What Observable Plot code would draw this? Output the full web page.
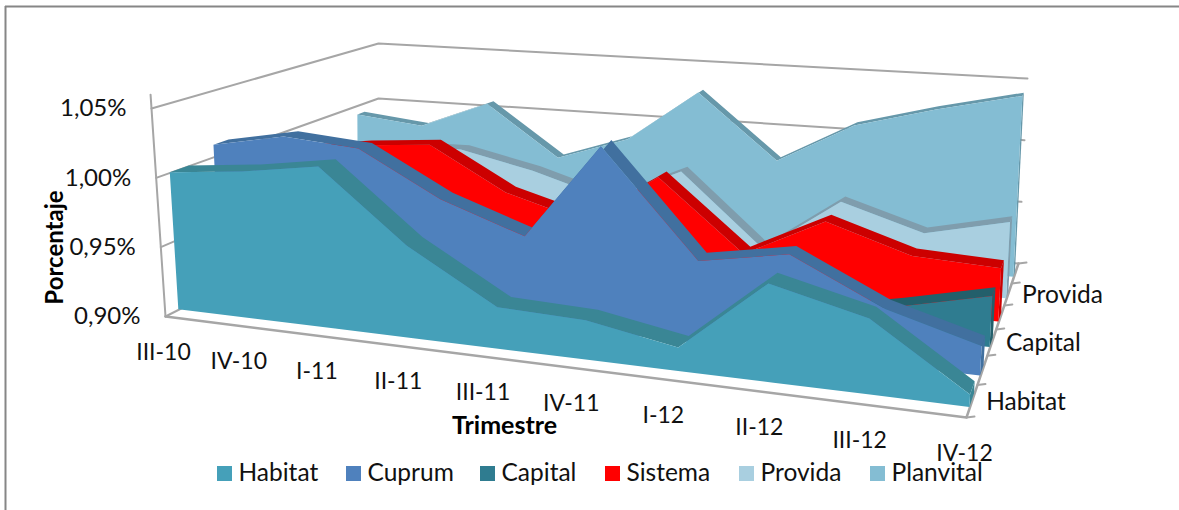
<!DOCTYPE html><html><head><meta charset="utf-8">
<script src="https://cdn.jsdelivr.net/npm/d3@7"></script>
<script src="https://cdn.jsdelivr.net/npm/@observablehq/plot@0.6"></script>
</head><body style="margin:0;background:#fff"><div id="c"></div>
<script>
const W=1179,H=510;
const categories=["III-10","IV-10","I-11","II-11","III-11","IV-11","I-12","II-12","III-12","IV-12"];
const names=["Habitat","Cuprum","Capital","Sistema","Provida","Planvital"];
const habitat=[1,1.006,1.015,.965,.929,.927,.916,.966,.95,.908];
const cuprum=[1.009,1.02,1.016,.984,.963,1.033,.958,.969,.938,.92];
const capital=[.93,.93,.93,.92,.92,.91,.91,.91,.922,.936];
const sistema=[.983,.991,.996,.963,.946,.985,.932,.962,.942,.939];
const provida=[.972,.98,.981,.968,.95,.977,.921,.963,.944,.958];
const planvital=[.992,.986,1.009,.967,.987,1.03,.978,1.011,1.028,1.043];
const yTicks=[.9,.95,1,1.05];
const vals=[habitat,cuprum,capital,sistema,provida,planvital];
const fills=["#45A0B9","#4F81BD","#2F7C90","#FF0000","#A9CFE0","#84BDD3"];
const bands=["#3A8695","#41709F","#235F6B","#CC0000","#7F9DAD","#6698AA"];
// 3D box → screen: perspective of the floor and of the top plane, linear in between
function hom(q){const [[x0,y0],[x1,y1],[x2,y2],[x3,y3]]=q;
const dx1=x1-x2,dx2=x3-x2,dx3=x0-x1+x2-x3,dy1=y1-y2,dy2=y3-y2,dy3=y0-y1+y2-y3;
const den=dx1*dy2-dx2*dy1,g=(dx3*dy2-dx2*dy3)/den,h=(dx1*dy3-dx3*dy1)/den;
const a=x1-x0+g*x1,b=x3-x0+h*x3,d=y1-y0+g*y1,e=y3-y0+h*y3;
return (u,v)=>{const w=g*u+h*v+1;return [(a*u+b*v+x0)/w,(d*u+e*v+y0)/w];};}
const fl=hom([[165,316],[966,417],[1018,263],[378,208]]), tp=hom([[151,108],[978,184],[1027,78],[378,43]]);
const warp=(t,k=.08)=>t+k*t*(1-t);
const P=(i,d,val,k)=>{const u=warp(i/9,k),v=(val-.9)/.15,a=fl(u,d),b=tp(u,d);return [a[0]+(b[0]-a[0])*v,a[1]+(b[1]-a[1])*v];};
const F=.05,thick=[.07,.06,.06,.06,.05,.04],slot=n=>n/6;
const idx=d3.range(categories.length);
const marks=[];
const lineM=(pts,o={})=>Plot.line(pts,{x:d=>d[0],y:d=>d[1],stroke:"#A6A6A6",strokeWidth:2,...o});
for(const v of [.95,1,1.05]) marks.push(lineM([P(0,0,v),P(0,1,v),P(9,1,v)]));
marks.push(lineM([P(0,0,.9),P(0,1,.9),P(9,1,.9)]));
marks.push(lineM([P(0,0,.9),P(0,0,1.06)]));
marks.push(lineM([P(0,0,.9),P(9,0,.9),P(9,1,.9)],{strokeWidth:2.5}));
for(const k of d3.range(7)){const p=P(9,k/6,.9);marks.push(lineM([p,[p[0]+8,p[1]-1]]));}
for(const n of [5,4,3,2,1,0]){const v=vals[n],d0=slot(n)+F,d1=d0+thick[n];
 const rows=idx.map(i=>({f:P(i,d0,v[i]),b:P(i,d1,v[i]),g:P(i,d0,.9)}));
 const e=P(9,d0,.9),e2=P(9,d1,.9),t=P(9,d0,v[9]),t2=P(9,d1,v[9]);
 marks.push(Plot.area([{a:e,b:t},{a:e2,b:t2}],{x1:d=>d.a[0],y1:d=>d.a[1],x2:d=>d.b[0],y2:d=>d.b[1],fill:bands[n]}));
 marks.push(Plot.area(rows,{x1:d=>d.f[0],y1:d=>d.f[1],x2:d=>d.b[0],y2:d=>d.b[1],fill:bands[n]}));
 marks.push(Plot.area(rows,{x1:d=>d.g[0],y1:d=>d.g[1],x2:d=>d.f[0],y2:d=>d.f[1],fill:fills[n]}));
}
const font=s=>({fontFamily:"Lato",fontSize:s,fill:"#111"});
marks.push(Plot.text(yTicks,{x:d=>P(0,0,d)[0],y:d=>P(0,0,d)[1],text:d=>d.toFixed(2).replace(".",",")+"%",textAnchor:"end",dx:-25,dy:0,...font(24)}));
marks.push(Plot.text(idx,{x:i=>P(i,0,.9,.04)[0],y:i=>P(i,0,.9,.04)[1],text:i=>categories[i],dy:36,dx:-2,...font(23)}));
marks.push(Plot.text([0,2,4],{x:n=>P(9,(n+.5)/6,.9)[0],y:n=>P(9,(n+.5)/6,.9)[1],text:n=>names[n],textAnchor:"start",dx:14,dy:1,...font(24.5)}));
marks.push(Plot.text(["Porcentaje"],{x:()=>55,y:()=>247,rotate:-90,text:d=>d,fontFamily:"Lato",fontWeight:"bold",fontSize:24,fill:"#000"}));
marks.push(Plot.text(["Trimestre"],{x:()=>504,y:()=>425,text:d=>d,fontFamily:"Lato",fontWeight:"bold",fontSize:25,fill:"#000"}));
const swatchX=[217,346,480,605,739,870];
marks.push(Plot.rect(names,{x1:(d,i)=>swatchX[i],x2:(d,i)=>swatchX[i]+15,y1:()=>466,y2:()=>481,fill:(d,i)=>fills[i]}));
marks.push(Plot.text(names,{x:(d,i)=>swatchX[i]+21,y:()=>473,text:d=>d,textAnchor:"start",...font(24.5)}));
marks.push(Plot.ruleX([5],{y1:6,y2:510,stroke:"#868686",strokeWidth:2}));
marks.push(Plot.ruleY([6],{x1:5,x2:1179,stroke:"#868686",strokeWidth:2}));
const chart=Plot.plot({width:W,height:H,margin:0,style:{background:"#fff"},
 x:{domain:[0,W],range:[0,W],axis:null},y:{domain:[0,H],range:[0,H],axis:null},marks});
document.getElementById('c').append(chart);
</script></body></html>
